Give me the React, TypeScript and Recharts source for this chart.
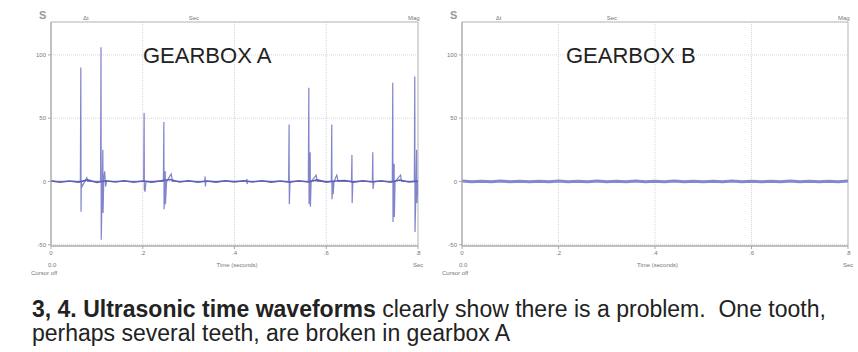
import React from 'react';
import { LineChart, Line, XAxis, YAxis, CartesianGrid, ReferenceArea } from 'recharts';

// time ticks (seconds) and amplitude ticks shared by both panels
const timeTicks = [0, 0.2, 0.4, 0.6, 0.8];
const timeTickLabels = ['0', '.2', '.4', '.6', '.8'];
const ampTicks = [-50, 0, 50, 100];
const ampTickLabels = ['-50', '0', '50', '100'];

// gearbox A impacts
const spikeTimesA = [
  0, 0.064, 0.065, 0.0655, 0.066, 0.068, 0.078, 0.08,
  0.108, 0.109, 0.1095, 0.112, 0.113, 0.1135, 0.115, 0.117, 0.119, 0.121,
  0.202, 0.203, 0.2035, 0.205, 0.207,
  0.245, 0.246, 0.2465, 0.248, 0.249, 0.2495, 0.252, 0.262, 0.265,
  0.335, 0.336, 0.3365, 0.338,
  0.426, 0.427, 0.4275, 0.429,
  0.518, 0.519, 0.5195, 0.521,
  0.561, 0.562, 0.5625, 0.564, 0.565, 0.5655, 0.567, 0.578, 0.58,
  0.611, 0.612, 0.6125, 0.614, 0.615, 0.617, 0.623, 0.626,
  0.655, 0.656, 0.6565, 0.658,
  0.7005, 0.7015, 0.702, 0.704,
  0.744, 0.745, 0.7455, 0.747, 0.748, 0.7485, 0.75, 0.762, 0.764,
  0.792, 0.793, 0.7935, 0.796, 0.797, 0.7975, 0.8,
];
const spikeValsA = [
  0, 0, 90, -24, 0, -4, 3, 0,
  0, 106, -46, 0, 25, -25, 2, 8, -4, 0,
  0, 54, -6, -8, 0,
  0, 47, -22, 0, 8, -18, 0, 6, 0,
  0, 4, -4, 0,
  0, 2, -2, 0,
  0, 45, -18, 0,
  0, 74, -18, 0, 23, -20, 0, 5, 0,
  0, 45, -14, 0, -10, 0, 5, 0,
  0, 21, -17, 0,
  0, 23, -6, 0,
  0, 78, -32, 0, 14, -28, 0, 5, 0,
  0, 83, -40, 0, 25, -17, 0,
];

// low level background noise on both traces
const baseTimes = [
  0, 0.02, 0.04, 0.06, 0.08, 0.1, 0.12, 0.14, 0.16, 0.18, 0.2,
  0.22, 0.24, 0.26, 0.28, 0.3, 0.32, 0.34, 0.36, 0.38, 0.4,
  0.42, 0.44, 0.46, 0.48, 0.5, 0.52, 0.54, 0.56, 0.58, 0.6,
  0.62, 0.64, 0.66, 0.68, 0.7, 0.72, 0.74, 0.76, 0.78, 0.8,
];
const baseValsA = [
  0.5, -0.6, 0.4, -0.5, 1.2, -0.8, 0.6, -0.4, 0.5, -0.6, 0.3,
  -0.5, 0.6, 1.5, -0.4, 0.5, -0.6, 0.4, -0.5, 0.6, -0.3,
  0.5, -0.4, 0.6, -0.5, 0.4, -0.6, 0.5, -0.4, 1.2, -0.5,
  0.4, 0.8, -0.5, 0.6, -0.4, 0.5, -0.6, 1.1, -0.4, 0.3,
];
const baseValsB = [
  0.3, -0.3, 0.2, -0.2, 0.3, -0.2, 0.2, -0.3, 0.2, -0.2, 0.3,
  -0.2, 0.2, -0.3, 0.3, -0.2, 0.2, -0.2, 0.3, -0.3, 0.2,
  -0.2, 0.3, -0.2, 0.2, -0.3, 0.2, -0.2, 0.3, -0.2, 0.2,
  -0.3, 0.2, -0.2, 0.3, -0.2, 0.2, -0.3, 0.2, -0.2, 0.3,
];

const spikeDataA = spikeTimesA.map((t, i) => ({ t, v: spikeValsA[i] }));
const baseDataA = baseTimes.map((t, i) => ({ t, v: baseValsA[i] }));
const baseDataB = baseTimes.map((t, i) => ({ t, v: baseValsB[i] }));

const tickStyle = { fontSize: 6, fill: '#777', fontFamily: 'Liberation Sans, Arial, sans-serif' };
const smallText: React.CSSProperties = {
  position: 'absolute',
  fontSize: 6,
  color: '#777',
  fontFamily: 'Liberation Sans, Arial, sans-serif',
  whiteSpace: 'nowrap',
  lineHeight: '6px',
};

interface PanelProps {
  left: number;
  width: number;
  marginLeft: number;
  marginRight: number;
  title: string;
  titleX: number;
  spikes?: { t: number; v: number }[];
  base: { t: number; v: number }[];
  baseColor: string;
  baseWidth: number;
}

const Panel: React.FC<PanelProps> = ({
  left, width, marginLeft, marginRight, title, titleX, spikes, base, baseColor, baseWidth,
}) => {
  const plotL = marginLeft + 20;
  const plotR = width - marginRight;
  const plotW = plotR - plotL;
  const xAt = (t: number) => plotL + (t / 0.8) * plotW;
  return (
    <div style={{ position: 'absolute', left, top: 0, width, height: 280 }}>
      <LineChart
        width={width}
        height={280}
        margin={{ top: 22, right: marginRight, bottom: 10, left: marginLeft }}
      >
        <CartesianGrid stroke="#d6d6d6" strokeDasharray="1 1" />
        <XAxis
          dataKey="t"
          type="number"
          domain={[0, 0.8]}
          ticks={timeTicks}
          tickFormatter={(v: number) => timeTickLabels[timeTicks.indexOf(v)] ?? ''}
          tick={tickStyle}
          tickSize={3}
          stroke="#aaa"
          height={24}
          allowDataOverflow
        />
        <YAxis
          type="number"
          domain={[-51, 126]}
          ticks={ampTicks}
          tickFormatter={(v: number) => ampTickLabels[ampTicks.indexOf(v)] ?? ''}
          tick={tickStyle}
          tickSize={3}
          stroke="#aaa"
          width={20}
          allowDataOverflow
        />
        <ReferenceArea x1={0} x2={0.8} y1={-51} y2={126} fill="none" stroke="#bbb" strokeWidth={1} />
        {spikes && (
          <Line
            data={spikes}
            dataKey="v"
            stroke="#8284cc"
            strokeWidth={1.2}
            dot={false}
            isAnimationActive={false}
          />
        )}
        <Line
          data={base}
          dataKey="v"
          stroke={baseColor}
          strokeWidth={baseWidth}
          dot={false}
          isAnimationActive={false}
        />
      </LineChart>
      <div
        style={{
          position: 'absolute',
          left: titleX,
          top: 43,
          fontSize: 22,
          color: '#222',
          fontFamily: 'Liberation Sans, Arial, sans-serif',
          whiteSpace: 'nowrap',
        }}
      >
        {title}
      </div>
      <div style={{ ...smallText, left: plotL - 12, top: 12, fontSize: 11, color: '#999', fontWeight: 'bold' }}>S</div>
      <div style={{ ...smallText, left: xAt(0.07), top: 15 }}>Δt</div>
      <div style={{ ...smallText, left: xAt(0.3), top: 15 }}>Sec</div>
      <div style={{ ...smallText, left: plotR - 10, top: 15 }}>Mag</div>
      <div style={{ ...smallText, left: plotL - 3, top: 262 }}>0.0</div>
      <div style={{ ...smallText, left: plotL - 18 + plotW / 2, top: 262 }}>Time (seconds)</div>
      <div style={{ ...smallText, left: plotR - 5, top: 262 }}>Sec</div>
      <div style={{ ...smallText, left: plotL - 20, top: 270 }}>Cursor off</div>
    </div>
  );
};

export default function App() {
  return (
    <div
      style={{
        position: 'fixed',
        left: 0,
        top: 0,
        width: 858,
        height: 352,
        background: '#fff',
        overflow: 'hidden',
      }}
    >
      <Panel
        left={0}
        width={430}
        marginLeft={31}
        marginRight={12}
        title="GEARBOX A"
        titleX={143}
        spikes={spikeDataA}
        base={baseDataA}
        baseColor="#5c60b0"
        baseWidth={1.6}
      />
      <Panel
        left={430}
        width={428}
        marginLeft={12}
        marginRight={10}
        title="GEARBOX B"
        titleX={136}
        base={baseDataB}
        baseColor="#8587cf"
        baseWidth={3}
      />
      <div
        style={{
          position: 'absolute',
          left: 32,
          top: 297,
          fontSize: 23,
          lineHeight: '24px',
          color: '#222',
          fontFamily: 'Liberation Sans, Arial, sans-serif',
          whiteSpace: 'nowrap',
        }}
      >
        <div>
          <b>3, 4. Ultrasonic time waveforms</b> clearly show there is a problem.&nbsp; One tooth,
        </div>
        <div>perhaps several teeth, are broken in gearbox A</div>
      </div>
    </div>
  );
}
